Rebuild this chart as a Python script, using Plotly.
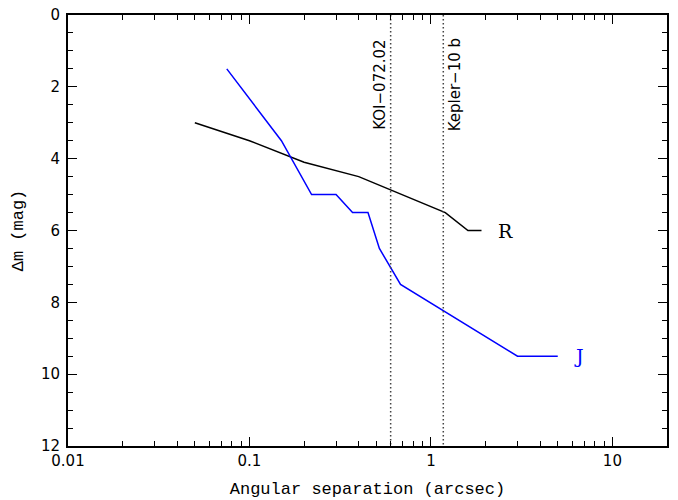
import math
import plotly.graph_objects as go

# Data
r_sep = [0.05, 0.1, 0.2, 0.4, 1.2, 1.6, 1.9]
r_dm = [3.0, 3.5, 4.1, 4.5, 5.5, 6.0, 6.0]
j_sep = [0.075, 0.15, 0.22, 0.30, 0.37, 0.45, 0.52, 0.68, 3.0, 5.0]
j_dm = [1.5, 3.5, 5.0, 5.0, 5.5, 5.5, 6.5, 7.5, 9.5, 9.5]
marker_names = ["KOI\u2212072.02", "Kepler\u221210 b"]
marker_sep = [0.60, 1.17]
x_ticks = [0.01, 0.1, 1, 10]
x_ticktext = ["0.01", "0.1", "1", "10"]
y_ticks = [0, 2, 4, 6, 8, 10, 12]

fig = go.Figure()
fig.add_trace(go.Scatter(x=r_sep, y=r_dm, mode="lines",
                         line=dict(color="black", width=1.5), showlegend=False))
fig.add_trace(go.Scatter(x=j_sep, y=j_dm, mode="lines",
                         line=dict(color="#0000ff", width=1.5), showlegend=False))

for name, xs, shift in zip(marker_names, marker_sep, [-11, 12]):
    fig.add_trace(go.Scatter(x=[xs, xs], y=[0, 12], mode="lines",
                             line=dict(color="#444444", width=1.5, dash="1.5px,2.5px"),
                             showlegend=False))
    fig.add_annotation(x=math.log10(xs), y=1.95, text=name, textangle=-90,
                       showarrow=False, xshift=shift,
                       font=dict(family="DejaVu Sans", size=15, color="black"))

fig.add_annotation(x=math.log10(r_sep[-1]), y=r_dm[-1], text="R", showarrow=False,
                   xanchor="left", xshift=14,
                   font=dict(family="DejaVu Serif", size=19, color="black"))
fig.add_annotation(x=math.log10(j_sep[-1]), y=j_dm[-1], text="J", showarrow=False,
                   xanchor="left", xshift=14,
                   font=dict(family="DejaVu Serif", size=19, color="#0000ff"))

minor_x = [m * 10 ** e for e in range(-2, 2) for m in range(2, 10) if m * 10 ** e < 20]
minor_y = [v / 2 for v in range(0, 25)]

fig.update_xaxes(type="log", range=[-2, math.log10(20)], automargin=False,
                 tickmode="array", tickvals=x_ticks, ticktext=x_ticktext,
                 ticks="inside", ticklen=9, tickwidth=1.3, tickcolor="black",
                 minor=dict(tickmode="array", tickvals=minor_x, ticks="inside",
                            ticklen=5, tickwidth=1.3, tickcolor="black", showgrid=False),
                 showline=True, linecolor="black", linewidth=1.8, mirror="ticks",
                 showgrid=False, zeroline=False,
                 tickfont=dict(family="DejaVu Sans", size=15, color="black"),
                 title=dict(text="Angular separation (arcsec)",
                            font=dict(family="Liberation Mono", size=17, color="black"),
                            standoff=13))
fig.update_yaxes(range=[12, 0], tickmode="array", tickvals=y_ticks, automargin=False,
                 ticks="inside", ticklen=9, tickwidth=1.3, tickcolor="black",
                 minor=dict(tickmode="array", tickvals=minor_y, ticks="inside",
                            ticklen=5, tickwidth=1.3, tickcolor="black", showgrid=False),
                 showline=True, linecolor="black", linewidth=1.8, mirror="ticks",
                 showgrid=False, zeroline=False, ticklabelstandoff=3,
                 tickfont=dict(family="DejaVu Sans", size=15, color="black"),
                 title=dict(text="\u0394m (mag)",
                            font=dict(family="Liberation Mono", size=17, color="black"),
                            standoff=13))

fig.update_layout(width=678, height=500, margin=dict(l=68, r=11, t=15, b=54),
                  paper_bgcolor="white", plot_bgcolor="white")
fig.write_html("out.html")
